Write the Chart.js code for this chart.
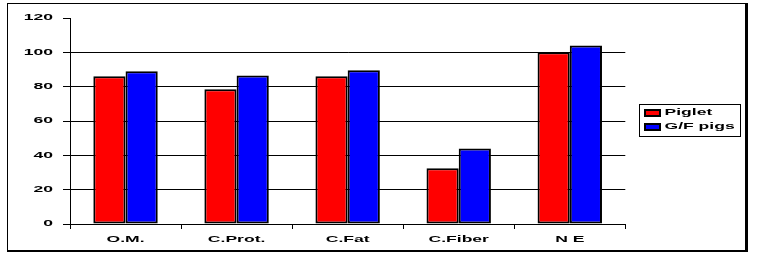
<!DOCTYPE html>
<html>
<head>
<meta charset="utf-8">
<script src="https://cdn.jsdelivr.net/npm/chart.js@4/dist/chart.umd.min.js"></script>
<style>
  body { margin: 0; background: #fff; }
  canvas { display: block; }
</style>
</head>
<body>
<canvas id="digestChart" width="757" height="257"></canvas>
<script>
// data
var categories = ["O.M.", "C.Prot.", "C.Fat", "C.Fiber", "N E"];
var piglet = [86, 78.5, 86, 32.5, 100];
var gfPigs = [89, 86.5, 89.5, 44, 104];
var yTicks = [0, 20, 40, 60, 80, 100, 120];

var canvas = document.getElementById('digestChart');
var ctx = canvas.getContext('2d');

// the old picture has its text stretched sideways, so widen every label
var SX = 1.95;
var origFill = ctx.fillText.bind(ctx);
ctx.fillText = function (t, x, y, w) {
  this.save();
  this.translate(x, y);
  this.scale(SX, 1);
  if (w === undefined) origFill(t, 0, 0); else origFill(t, 0, 0, w / SX);
  this.restore();
};
var origMeasure = ctx.measureText.bind(ctx);
ctx.measureText = function (t) {
  var m = origMeasure(t);
  return {
    width: m.width * SX,
    actualBoundingBoxAscent: m.actualBoundingBoxAscent,
    actualBoundingBoxDescent: m.actualBoundingBoxDescent,
    actualBoundingBoxLeft: m.actualBoundingBoxLeft * SX,
    actualBoundingBoxRight: m.actualBoundingBoxRight * SX
  };
};

var font = { family: 'Arial, "Liberation Sans", sans-serif', size: 9, weight: 'bold' };

var frames = {
  id: 'frames',
  afterUpdate: function (chart) {
    // park the legend where the reference has it (frame about 640..740, 105..135)
    var lg = chart.legend;
    var boxes = lg.legendHitBoxes;
    if (!boxes || !boxes.length) return;
    var minLeft = Math.min.apply(null, boxes.map(function (b) { return b.left; }));
    var last = boxes[boxes.length - 1];
    var dx = 645 - minLeft;
    var dy = 120 - (boxes[0].top + last.top + last.height) / 2;
    lg.left += dx; lg.right += dx;
    lg.top += dy; lg.bottom += dy;
    boxes.forEach(function (b) { b.left += dx; b.top += dy; });
  },
  afterDraw: function (chart) {
    var c = chart.ctx;
    c.save();
    c.fillStyle = '#000';
    // outer frame, heavier on right and bottom
    c.fillRect(7, 3, 741, 1);
    c.fillRect(7, 3, 1, 249);
    c.fillRect(7, 250, 741, 2);
    c.fillRect(745, 3, 3, 249);
    // box round the legend
    var boxes = chart.legend.legendHitBoxes;
    if (boxes && boxes.length) {
      var x0 = Math.min.apply(null, boxes.map(function (b) { return b.left; })) - 6;
      var x1 = Math.max.apply(null, boxes.map(function (b) { return b.left + b.width; })) + 5;
      var y0 = boxes[0].top - 5;
      var last = boxes[boxes.length - 1];
      var y1 = last.top + last.height + 4;
      c.strokeStyle = '#000';
      c.lineWidth = 1;
      c.strokeRect(Math.round(x0) + 0.5, Math.round(y0) + 0.5, Math.round(x1 - x0), Math.round(y1 - y0));
    }
    c.restore();
  }
};

var data = {
  labels: categories,
  datasets: [
    {
      label: "Piglet",
      data: piglet,
      backgroundColor: '#ff0000',
      borderColor: '#000',
      borderWidth: 2,
      borderSkipped: false,
      categoryPercentage: 0.58,
      barPercentage: 1
    },
    {
      label: "G/F pigs",
      data: gfPigs,
      backgroundColor: '#0000ff',
      borderColor: '#000',
      borderWidth: 2,
      borderSkipped: false,
      categoryPercentage: 0.58,
      barPercentage: 1
    }
  ]
};

var options = {
  responsive: false,
  animation: false,
  layout: { padding: { left: 10, right: 27, top: 18, bottom: 0 } },
  plugins: {
    tooltip: { enabled: false },
    legend: {
      display: true,
      position: 'right',
      labels: {
        font: font,
        color: '#000',
        boxWidth: 15,
        boxHeight: 6,
        padding: 5
      }
    }
  },
  scales: {
    x: {
      afterFit: function (scale) { scale.height = 33; },
      border: { color: '#000', width: 1 },
      grid: { drawOnChartArea: false, color: '#000', tickLength: 5 },
      ticks: { font: font, color: '#000', padding: 5, maxRotation: 0 }
    },
    y: {
      min: 0,
      max: 120,
      afterFit: function (scale) { scale.width = 60; },
      afterBuildTicks: function (scale) {
        scale.ticks = yTicks.map(function (v) { return { value: v }; });
      },
      border: { color: '#000', width: 1 },
      grid: {
        color: function (c) { return c.tick && (c.tick.value === 120 || c.tick.value === 0) ? 'rgba(0,0,0,0)' : '#000'; },
        tickColor: '#000',
        tickLength: 7
      },
      ticks: { font: font, color: '#000', padding: 10 }
    }
  }
};

var digestChart = new Chart(ctx, {
  type: 'bar',
  data: data,
  options: options,
  plugins: [frames]
});
</script>
</body>
</html>
